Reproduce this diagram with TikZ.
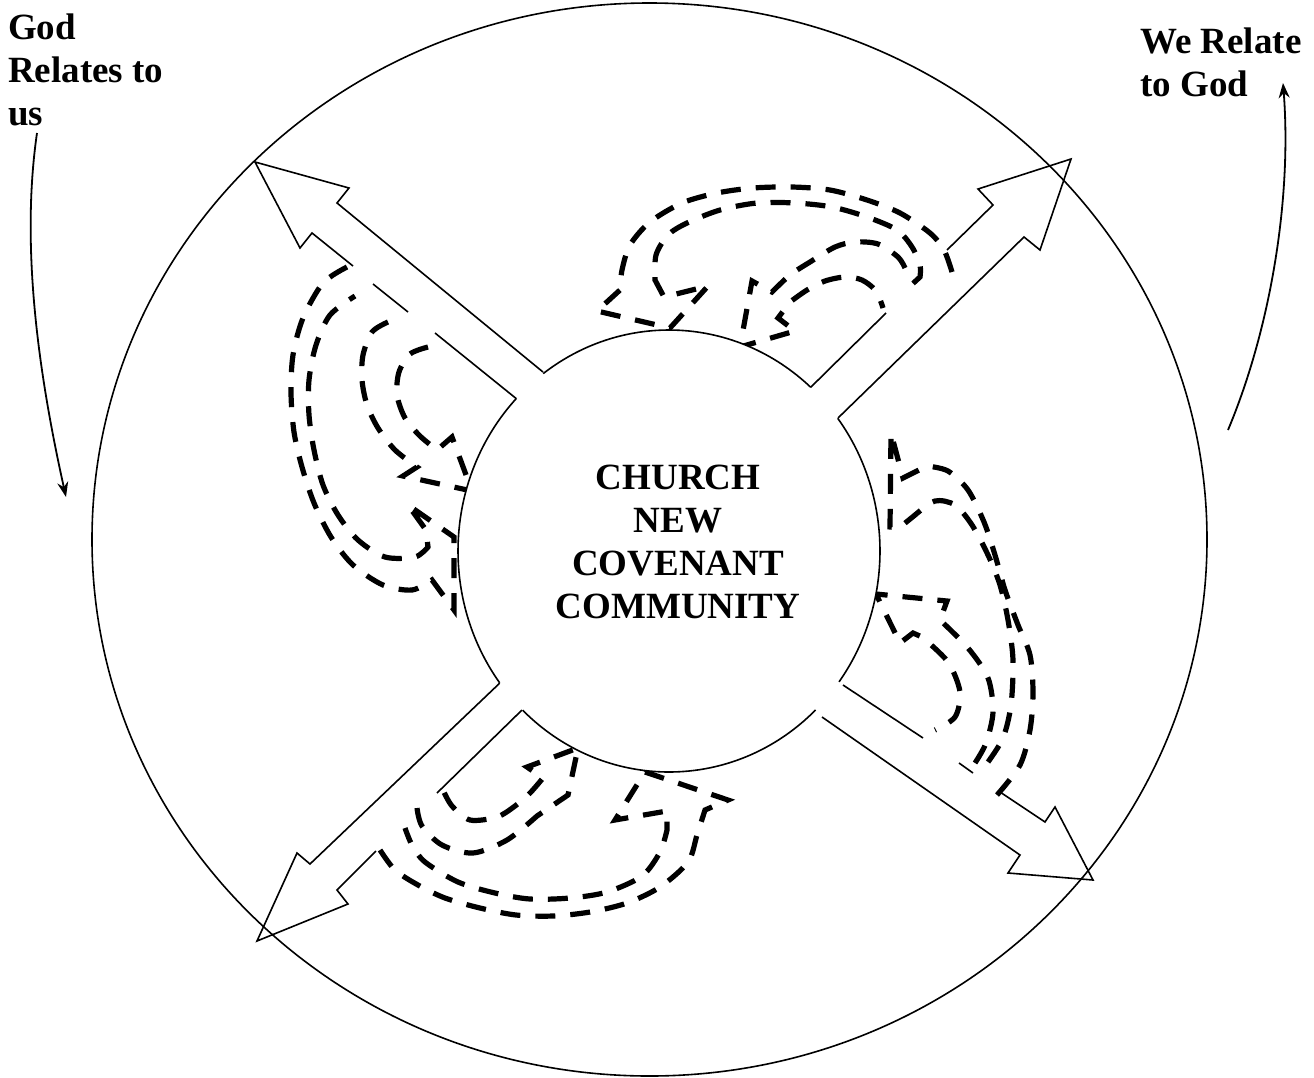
\documentclass[tikz,border=0pt]{standalone}
\usepackage{fontspec}
\setmainfont{Liberation Serif}
\usetikzlibrary{arrows.meta}
\tikzset{
  outline/.style={line width=1.6pt},
  band/.style={line width=5.2pt, dash pattern=on 20pt off 15pt},
  lblarrow/.style={line width=1.8pt, -{Stealth[length=15pt,width=11pt]}},
  lbl/.style={font=\bfseries\fontsize{37}{43}\selectfont, align=left, inner sep=0pt, anchor=north west}
}
\begin{document}
\begin{tikzpicture}[x=1pt,y=-1pt]
  \useasboundingbox (0,0) rectangle (1314,1077);

  % outer ring
  \draw[outline] (649.5,539.5) ellipse[x radius=557.5, y radius=536.5];

  % side labels
  \node[lbl] (godlbl) at (8,14) {God\\Relates to\\us};
  \node[lbl] (welbl) at (1140,28) {We Relate\\to God};
  \coordinate (godfrom) at (37,133);
  \coordinate (godto) at (66,497);
  \coordinate (wefrom) at (1228,430);
  \coordinate (weto) at (1283,83);
  \draw[lblarrow] (godfrom) .. controls (20,250) and (40,380) .. (godto);
  \draw[lblarrow] (wefrom) .. controls (1270,330) and (1292,200) .. (weto);

  % block arrows
  \draw[outline] (543,372) -- (337,203) -- (349,188) -- (255,162) -- (300,248) -- (312,233) -- (353,266);
  \draw[outline] (373,284) -- (408,312);
  \draw[outline] (435,333) -- (518,400);

  \draw[outline] (810,388) -- (886,313);
  \draw[outline] (947,250) -- (993,205) -- (978,189) -- (1071,159) -- (1040,250) -- (1024,237) -- (838,418);

  \draw[outline] (843,685) -- (923,738);
  \draw[outline] (959,763) -- (973,773);
  \draw[outline] (1000,792) -- (1045,822) -- (1055,807) -- (1093,880) -- (1008,873) -- (1020,855) -- (822,717);

  \draw[outline] (503,680) -- (310,864) -- (297,853) -- (257,941) -- (348,904) -- (337,890) -- (376,851);
  \draw[outline] (437,793) -- (522,710);

  % dashed curved arrows
  \draw[band] plot[smooth] coordinates {(347,267) (323,283) (303,318) (293,355) (291,393) (294,432) (302,467) (314,503) (331,537) (353,565) (383,585) (412,590) (432,580)} -- (454,610) -- (454,537) -- (408,505) -- (426,530) -- plot[smooth] coordinates {(428,547) (415,557) (385,557) (358,540) (338,515) (323,485) (314,450) (309,415) (309,380) (316,345) (330,315) (355,296)};
  \draw[band] plot[smooth] coordinates {(388,322) (372,332) (363,355) (362,380) (367,405) (378,428) (395,450) (417,467)} -- (403,476) -- (472,491) -- (452,437) -- plot[smooth] coordinates {(437,450) (420,436) (405,418) (397,395) (399,372) (410,354) (428,347)};

  \draw[band] plot[smooth] coordinates {(952,272) (944,250) (930,233) (900,213) (867,200) (830,190) (792,187) (753,188) (717,193) (682,203) (650,222) (630,245) (622,270) (620,290)} -- (597,311) -- (670,328) -- (708,286) -- (664,297) -- plot[smooth] coordinates {(655,280) (656,255) (668,235) (687,223) (720,210) (757,203) (795,203) (832,207) (867,217) (897,230) (912,247) (920,265) (920,277)} -- (908,288);
  \draw[band] plot[smooth] coordinates {(905,268) (898,257) (878,244) (855,242) (835,247) (810,262) (790,275) (772,292)} -- (752,281) -- (740,347) -- (795,331) -- (778,318) -- plot[smooth] coordinates {(790,302) (807,290) (825,281) (845,277) (862,280) (876,291) (883,308)};

  \draw[band] plot[smooth] coordinates {(997,795) (1020,765) (1030,730) (1033,693) (1030,655) (1018,625) (1005,590) (995,555) (984,522) (968,490) (948,471) (927,466)} -- (903,478) -- (891,433) -- (890,527) -- (899,528) -- plot[smooth] coordinates {(915,515) (935,501) (955,505) (972,525) (988,555) (1000,585) (1008,620) (1013,660) (1011,705) (1003,738) (988,762)};
  \draw[band] plot[smooth] coordinates {(975,763) (986,743) (993,712) (988,678) (968,648) (940,620)} -- (947,601) -- (876,594) -- (900,643) -- (913,633) -- plot[smooth] coordinates {(922,637) (948,662) (960,692) (955,717) (935,730)};

  \draw[band] plot[smooth] coordinates {(380,850) (395,870) (418,885) (445,898) (480,908) (516,915) (553,916) (590,912) (627,903) (660,887) (688,862) (697,835) (705,810)} -- (728,800) -- (645,772) -- (615,820) -- (667,811) -- plot[smooth] coordinates {(667,830) (660,852) (642,876) (607,892) (570,898) (530,899) (495,893) (458,882) (425,862) (412,845) (405,828)};
  \draw[band] plot[smooth] coordinates {(417,808) (422,826) (442,845) (473,853) (507,840) (537,816)} -- (568,795) -- (578,748) -- (527,767) -- plot[smooth] coordinates {(543,778) (530,793) (515,806) (497,817) (470,820) (452,806) (443,790)};

  % inner circle
  \fill[white] (669,551) ellipse[x radius=211, y radius=221];
  \draw[outline, shift={(669,551)}] (233.4:211 and 221) arc[start angle=233.4, end angle=312.2, x radius=211, y radius=221];
  \draw[outline, shift={(669,551)}] (143.4:211 and 221) arc[start angle=143.4, end angle=223.7, x radius=211, y radius=221];
  \draw[outline, shift={(669,551)}] (46:211 and 221) arc[start angle=46, end angle=133.9, x radius=211, y radius=221];
  \draw[outline, shift={(669,551)}] (-36.9:211 and 221) arc[start angle=-36.9, end angle=36.3, x radius=211, y radius=221];

  \node[font=\bfseries\fontsize{37}{43}\selectfont, align=center, inner sep=0pt] (church) at (678,542) {CHURCH\\NEW\\COVENANT\\COMMUNITY};
\end{tikzpicture}
\end{document}
